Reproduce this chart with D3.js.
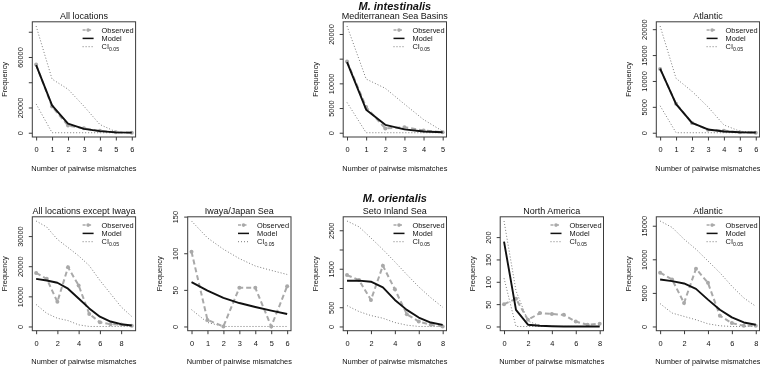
<!DOCTYPE html>
<html><head><meta charset="utf-8">
<script src="https://cdn.jsdelivr.net/npm/d3@7"></script>
<style>body{margin:0;background:#fff}svg{display:block;font-family:"Liberation Sans",Arial,sans-serif;will-change:transform;-webkit-font-smoothing:antialiased}</style>
</head><body><svg id="c" width="760" height="367"></svg>
<script>
// ---------- data ----------
const groupTitles = ["M. intestinalis", "M. orientalis"];
const panelTitles = ["All locations", "Mediterranean Sea Basins", "Atlantic",
  "All locations except Iwaya", "Iwaya/Japan Sea", "Seto Inland Sea", "North America", "Atlantic"];
const xLabel = "Number of pairwise mismatches";
const yLabel = "Frequency";
const legendLabels = ["Observed", "Model", "CI"];
const ciSub = "0.05";

// P1 All locations (M. intestinalis)
const obs_allLoc   = [54000, 20700, 5700, 3500, 1500, 300, 0];
const model_allLoc = [53500, 21700, 7250, 3100, 1300, 300, 100];
const ciUp_allLoc  = [84500, 42500, 34500, 21000, 6500, 800, 0];
const ciLo_allLoc  = [22800, 0, 0, 0, 0, 0, 0];
// P2 Mediterranean Sea Basins
const obs_med   = [14400, 5200, 870, 1130, 470, 100];
const model_med = [14300, 4660, 1600, 670, 250, 100];
const ciUp_med  = [21600, 10870, 9000, 5800, 2670, 300];
const ciLo_med  = [6130, 0, 0, 0, 0, 0];
// P3 Atlantic (M. intestinalis)
const obs_atlI   = [12300, 5600, 1900, 600, 400, 100, 0];
const model_atlI = [12400, 5530, 1900, 630, 250, 100, 50];
const ciUp_atlI  = [20600, 10500, 8000, 5000, 1500, 300, 0];
const ciLo_atlI  = [5200, 0, 0, 0, 0, 0, 0];
// P4 All locations except Iwaya
const obs_exIwaya   = [17780, 15800, 8180, 19630, 13630, 4140, 1420, 760, 650, 220];
const model_exIwaya = [15800, 15270, 14500, 12540, 9270, 6000, 3270, 1640, 760, 330];
const ciUp_exIwaya  = [35000, 33000, 28900, 26200, 23450, 20200, 15300, 10900, 6500, 3300];
const ciLo_exIwaya  = [7300, 4360, 2730, 1960, 550, 0, 0, 0, 0, 0];
// P5 Iwaya/Japan Sea
const obs_iwaya   = [102, 9, 0, 53, 53, 0, 55];
const model_iwaya = [60.5, 49, 39, 32, 26.6, 21.6, 17];
const ciUp_iwaya  = [144, 121, 105.5, 92.7, 82.6, 76.6, 71];
const ciLo_iwaya  = [23, 5.5, 0, 0, 0, 0, 0];
// P6 Seto Inland Sea
const obs_seto   = [1336, 1207, 690, 1578, 966, 319, 129, 43, 0];
const model_seto = [1190, 1190, 1164, 1017, 690, 431, 233, 103, 43];
const ciUp_seto  = [2740, 2590, 2300, 2000, 1680, 1350, 1030, 750, 500];
const ciLo_seto  = [543, 388, 284, 215, 103, 34, 0, 0, 0];
// P7 North America
const obs_nam   = [50, 62, 15, 30, 28, 26, 11, 4, 6];
const model_nam = [190, 37, 4, 1.5, 0.5, 0, 0, 0, 0];
const ciUp_nam  = [236, 80, 12, 2, 0, 0, 0, 0, 0];
const ciLo_nam  = [108, 0, 0, 0, 0, 0, 0, 0, 0];
// P8 Atlantic (M. orientalis)
const obs_atlO   = [8000, 7000, 3500, 8600, 6500, 1600, 500, 100, 100];
const model_atlO = [7000, 6750, 6400, 5600, 4000, 2500, 1350, 600, 250];
const ciUp_atlO  = [15700, 14750, 13000, 11500, 9750, 8000, 6000, 4250, 3000];
const ciLo_atlO  = [3400, 2000, 1500, 1000, 400, 100, 0, 0, 0];

// tick values / labelled ticks
const yTicks = [
  [0, 20000, 40000, 60000, 80000], [0, 5000, 10000, 15000, 20000], [0, 5000, 10000, 15000, 20000],
  [0, 10000, 20000, 30000], [0, 50, 100, 150], [0, 500, 1000, 1500, 2000, 2500], [0, 50, 100, 150, 200], [0, 5000, 10000, 15000]];
const yTickLabels = [
  [0, 20000, 60000], [0, 5000, 10000, 20000], [0, 5000, 10000, 15000, 20000],
  [0, 10000, 20000, 30000], [0, 50, 100, 150], [0, 500, 1500, 2500], [0, 50, 100, 150, 200], [0, 5000, 10000, 15000]];
const xTicks = [
  [0,1,2,3,4,5,6], [0,1,2,3,4,5], [0,1,2,3,4,5,6],
  [0,2,4,6,8], [0,1,2,3,4,5,6], [0,2,4,6,8], [0,2,4,6,8], [0,2,4,6,8]];

const panels = [
  {obs: obs_allLoc, model: model_allLoc, up: ciUp_allLoc, lo: ciLo_allLoc},
  {obs: obs_med, model: model_med, up: ciUp_med, lo: ciLo_med},
  {obs: obs_atlI, model: model_atlI, up: ciUp_atlI, lo: ciLo_atlI},
  {obs: obs_exIwaya, model: model_exIwaya, up: ciUp_exIwaya, lo: ciLo_exIwaya},
  {obs: obs_iwaya, model: model_iwaya, up: ciUp_iwaya, lo: ciLo_iwaya},
  {obs: obs_seto, model: model_seto, up: ciUp_seto, lo: ciLo_seto},
  {obs: obs_nam, model: model_nam, up: ciUp_nam, lo: ciLo_nam},
  {obs: obs_atlO, model: model_atlO, up: ciUp_atlO, lo: ciLo_atlO}
];

// ---------- layout ----------
const colLeft = [32.3, 187.7, 343.2, 500.2, 656.3];
const boxW = 103.3;
const rows = [{top: 21.8, bottom: 137}, {top: 216.8, bottom: 330.7}];
const panelCol = [0, 2, 4, 0, 1, 2, 3, 4];
const panelRow = [0, 0, 0, 1, 1, 1, 1, 1];

const OBS_COL = "#a9a9a9", CI_COL = "#7a7a7a", AX_COL = "#3a3a3a", TXT = "#111";
const FS = 7.4;
const svg = d3.select("#c");

function fmt(v){ return String(v); }

panels.forEach((p, i) => {
  const L = colLeft[panelCol[i]], R = L + boxW;
  const T = rows[panelRow[i]].top, B = rows[panelRow[i]].bottom;
  const n = p.obs.length;
  const xMax = n - 1;
  const yMax = d3.max([...p.obs, ...p.model, ...p.up, ...p.lo]);
  const x = d3.scaleLinear().domain([-0.04 * xMax, xMax * 1.04]).range([L, R]);
  const y = d3.scaleLinear().domain([-0.04 * yMax, yMax * 1.04]).range([B, T]);
  const g = svg.append("g");

  // box
  g.append("rect").attr("x", L).attr("y", T).attr("width", R - L).attr("height", B - T)
    .attr("fill", "none").attr("stroke", AX_COL).attr("stroke-width", 1);

  const xa = d3.axisBottom(x).tickValues(xTicks[i]).tickSize(3.5).tickFormat(fmt);
  const gx = g.append("g").attr("transform", `translate(0,${B})`).call(xa);
  const ya = d3.axisLeft(y).tickValues(yTicks[i]).tickSize(3.5).tickFormat(d => yTickLabels[i].includes(d) ? fmt(d) : "");
  const gy = g.append("g").attr("transform", `translate(${L},0)`).call(ya);
  [gx, gy].forEach(a => {
    a.select(".domain").remove();
    a.selectAll(".tick line").attr("stroke", AX_COL);
    a.selectAll("text").attr("fill", TXT).attr("font-size", FS).attr("font-family", '"Liberation Sans",Arial,sans-serif');
  });
  gx.selectAll("text").attr("dy", "0.71em").attr("y", 10);
  gy.selectAll(".tick text").attr("x", null).attr("dy", null)
    .attr("text-anchor", "middle")
    .attr("transform", "translate(-9.5,0) rotate(-90)");

  // axis titles
  g.append("text").attr("x", (L + R) / 2).attr("y", B + 33.5).attr("text-anchor", "middle")
    .attr("font-size", FS).attr("fill", TXT).text(xLabel);
  g.append("text").attr("transform", `translate(${L - 25.5},${(T + B) / 2}) rotate(-90)`)
    .attr("text-anchor", "middle").attr("font-size", FS).attr("fill", TXT).text(yLabel);
  // panel title
  g.append("text").attr("x", (L + R) / 2).attr("y", T - 3).attr("text-anchor", "middle")
    .attr("font-size", 9).attr("fill", TXT).text(panelTitles[i]);

  const clip = "clip" + i;
  svg.append("clipPath").attr("id", clip).append("rect").attr("x", L).attr("y", T).attr("width", R - L).attr("height", B - T);
  const pg = g.append("g").attr("clip-path", `url(#${clip})`);
  const line = arr => d3.line().x((d, k) => x(k)).y(d => y(d))(arr);

  // CI
  [p.up, p.lo].forEach(arr => pg.append("path").attr("d", line(arr)).attr("fill", "none")
    .attr("stroke", CI_COL).attr("stroke-width", 1).attr("stroke-dasharray", "1,2"));
  // observed
  pg.append("path").attr("d", line(p.obs)).attr("fill", "none").attr("stroke", OBS_COL)
    .attr("stroke-width", 2).attr("stroke-dasharray", "5,3");
  pg.selectAll("circle.o").data(p.obs).enter().append("circle")
    .attr("cx", (d, k) => x(k)).attr("cy", d => y(d)).attr("r", 2).attr("fill", OBS_COL);
  // model
  pg.append("path").attr("d", line(p.model)).attr("fill", "none").attr("stroke", "#111")
    .attr("stroke-width", 1.9).attr("stroke-linejoin", "round");

  // legend
  const lx1 = R - 53, lx2 = R - 42, tx = R - 34;
  const ly = [T + 8.3, T + 16.6, T + 24.9];
  const lg = g.append("g");
  lg.append("line").attr("x1", lx1).attr("x2", lx2).attr("y1", ly[0]).attr("y2", ly[0])
    .attr("stroke", OBS_COL).attr("stroke-width", 1.5).attr("stroke-dasharray", "3,2.5");
  lg.append("circle").attr("cx", (lx1 + lx2) / 2).attr("cy", ly[0]).attr("r", 1.8).attr("fill", OBS_COL);
  lg.append("line").attr("x1", lx1).attr("x2", lx2).attr("y1", ly[1]).attr("y2", ly[1])
    .attr("stroke", "#111").attr("stroke-width", 1.5);
  lg.append("line").attr("x1", lx1).attr("x2", lx2).attr("y1", ly[2]).attr("y2", ly[2])
    .attr("stroke", CI_COL).attr("stroke-width", 1).attr("stroke-dasharray", "1,2");
  legendLabels.forEach((t, k) => {
    const te = lg.append("text").attr("x", tx).attr("y", ly[k]).attr("dy", "0.35em")
      .attr("font-size", FS).attr("fill", TXT).text(t);
    if (k === 2) te.append("tspan").attr("font-size", 5.2).attr("dy", "0.35em").text(ciSub);
  });
});

// group titles
svg.append("text").attr("x", colLeft[2] + boxW / 2).attr("y", 9.5).attr("text-anchor", "middle")
  .attr("font-size", 11).attr("font-weight", "bold").attr("font-style", "italic").attr("fill", TXT).text(groupTitles[0]);
svg.append("text").attr("x", colLeft[2] + boxW / 2).attr("y", 202).attr("text-anchor", "middle")
  .attr("font-size", 11).attr("font-weight", "bold").attr("font-style", "italic").attr("fill", TXT).text(groupTitles[1]);
</script></body></html>
